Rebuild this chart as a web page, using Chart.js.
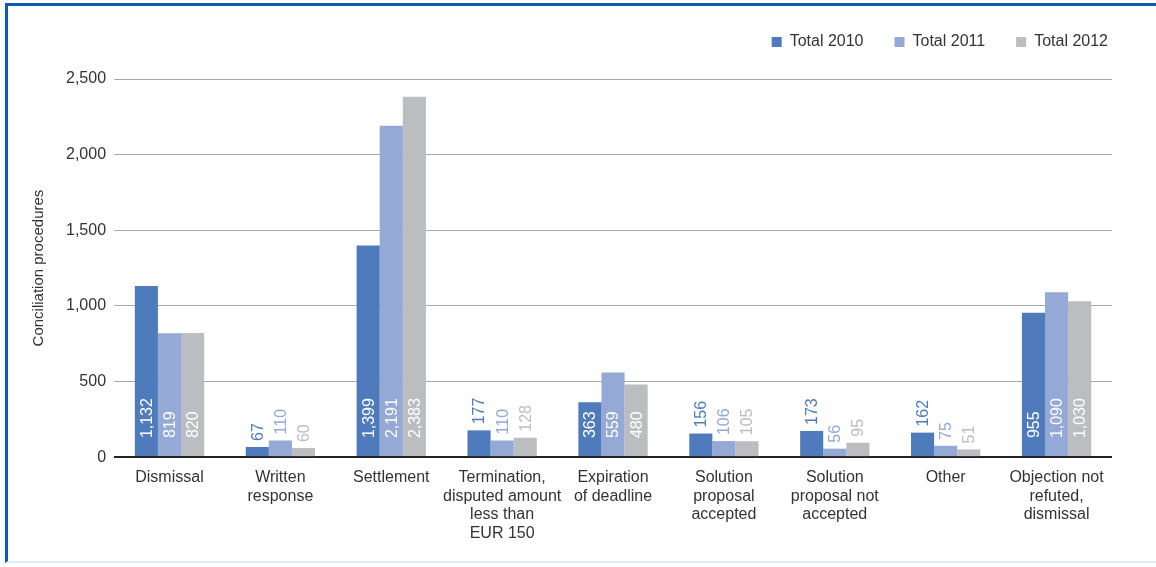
<!DOCTYPE html>
<html lang="en">
<head>
    <meta charset="UTF-8">
    <title>Conciliation procedures</title>
    <script src="https://cdn.jsdelivr.net/npm/chart.js"></script>
    <style>
        body { margin: 0; background: #fff; }
        #frame {
            position: absolute; left: 5px; top: 3px; width: 1151px; height: 560px;
            border-left: 3px solid #0b5cad; border-top: 3px solid #0b5cad;
            border-bottom: 2px solid #e2edf8; box-sizing: border-box;
        }
        #wrap { position: absolute; left: 0; top: 0; width: 1156px; height: 567px; }
    </style>
</head>
<body>
    <div id="frame"></div>
    <div id="wrap"><canvas id="conciliationChart"></canvas></div>

    <script>
        const categories = [
            'Dismissal',
            ['Written', 'response'],
            'Settlement',
            ['Termination,', 'disputed amount', 'less than', 'EUR 150'],
            ['Expiration', 'of deadline'],
            ['Solution', 'proposal', 'accepted'],
            ['Solution', 'proposal not', 'accepted'],
            'Other',
            ['Objection not', 'refuted,', 'dismissal']
        ];
        const total2010 = [1132, 67, 1399, 177, 363, 156, 173, 162, 955];
        const total2011 = [819, 110, 2191, 110, 559, 106, 56, 75, 1090];
        const total2012 = [820, 60, 2383, 128, 480, 105, 95, 51, 1030];
        const yTicks = [0, 500, 1000, 1500, 2000, 2500];

        const colors = ['#4f7bbd', '#94a9d6', '#bcbdc1'];
        const labelColors = ['#4f7bbd', '#94a9d6', '#bcbdc1'];
        const font = "'Liberation Sans', Arial, sans-serif";

        // value labels written vertically, inside the bar when it fits, above otherwise
        const valueLabels = {
            id: 'valueLabels',
            afterDatasetsDraw(chart) {
                const ctx = chart.ctx;
                ctx.save();
                ctx.font = '16px ' + font;
                ctx.textBaseline = 'middle';
                ctx.textAlign = 'left';
                chart.data.datasets.forEach((ds, i) => {
                    chart.getDatasetMeta(i).data.forEach((bar, j) => {
                        const txt = ds.data[j].toLocaleString('en-US');
                        const w = ctx.measureText(txt).width;
                        const h = bar.base - bar.y;
                        let start, color;
                        if (h > w + 24) {
                            start = bar.base - 18;
                            color = '#ffffff';
                        } else {
                            start = bar.y - 6;
                            color = labelColors[i];
                        }
                        ctx.save();
                        ctx.translate(bar.x, start);
                        ctx.rotate(-Math.PI / 2);
                        ctx.fillStyle = color;
                        ctx.fillText(txt, 0, 1);
                        ctx.restore();
                    });
                });
                ctx.restore();
            }
        };

        // move the legend to the top right corner, closer to the frame
        const legendShift = {
            id: 'legendShift',
            afterLayout(chart) {
                const lg = chart.legend;
                lg.left += 27; lg.right += 27;
                lg.top -= 19; lg.bottom -= 19;
            }
        };

        const ctx = document.getElementById('conciliationChart').getContext('2d');
        new Chart(ctx, {
            type: 'bar',
            data: {
                labels: categories,
                datasets: [
                    { label: 'Total 2010', data: total2010, backgroundColor: colors[0] },
                    { label: 'Total 2011', data: total2011, backgroundColor: colors[1] },
                    { label: 'Total 2012', data: total2012, backgroundColor: colors[2] }
                ]
            },
            plugins: [valueLabels, legendShift],
            options: {
                responsive: true,
                maintainAspectRatio: false,
                animation: false,
                datasets: {
                    bar: { barPercentage: 1, categoryPercentage: 0.625 }
                },
                layout: { padding: { left: 30, right: 44, top: 22, bottom: 21 } },
                plugins: {
                    tooltip: { enabled: false },
                    legend: {
                        position: 'top',
                        align: 'end',
                        labels: {
                            boxWidth: 10,
                            boxHeight: 10,
                            padding: 31,
                            color: '#333',
                            font: { family: font, size: 16 }
                        }
                    }
                },
                scales: {
                    x: {
                        grid: { display: false },
                        border: { display: false },
                        ticks: {
                            color: '#333',
                            maxRotation: 0,
                            autoSkip: false,
                            padding: 3,
                            font: { family: font, size: 16, lineHeight: 1.17 }
                        }
                    },
                    y: {
                        min: 0,
                        max: 2500,
                        border: { display: false },
                        grid: {
                            drawTicks: false,
                            color: c => c.tick && c.tick.value === 0 ? '#222' : '#a8a8a8',
                            lineWidth: c => c.tick && c.tick.value === 0 ? 2 : 1
                        },
                        afterBuildTicks: axis => { axis.ticks = yTicks.map(v => ({ value: v })); },
                        ticks: {
                            color: '#333',
                            padding: 8,
                            font: { family: font, size: 16 },
                            callback: v => v.toLocaleString('en-US')
                        },
                        title: {
                            display: true,
                            text: 'Conciliation procedures',
                            color: '#333',
                            padding: { top: 0, bottom: 10 },
                            font: { family: font, size: 15 }
                        }
                    }
                }
            }
        });
    </script>
</body>
</html>
